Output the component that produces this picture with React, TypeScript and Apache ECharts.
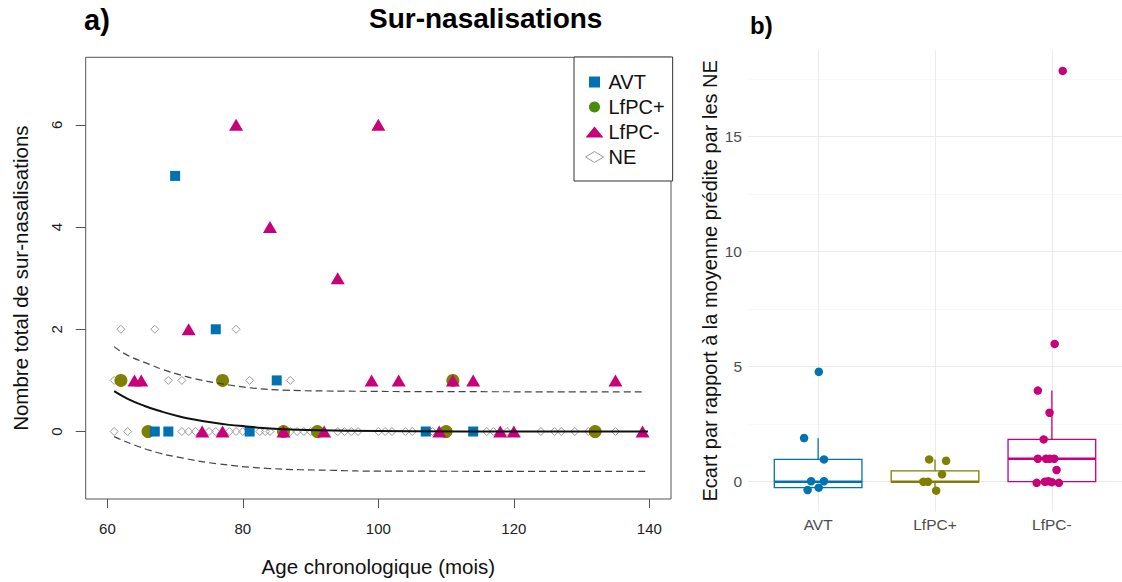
import React, { useEffect, useRef } from "react";
import * as echarts from "echarts";

const FONT = '"Liberation Sans", Arial, Helvetica, sans-serif';

// ---------- Panel a) : points [age, count] ----------
const avtPoints: [number, number][] = [
  [70, 5], [76, 2], [85, 1], [67, 0], [69, 0], [81, 0], [107, 0], [114, 0],
];
const lfpcPlusPoints: [number, number][] = [
  [62, 1], [77, 1], [111, 1], [66, 0], [86, 0], [91, 0], [110, 0], [132, 0],
];
const lfpcMinusPoints: [number, number][] = [
  [79, 6], [100, 6], [84, 4], [94, 3], [72, 2], [64, 1], [65, 1], [99, 1], [103, 1],
  [111, 1], [114, 1], [135, 1], [74, 0], [77, 0], [86, 0], [92, 0], [109, 0], [118, 0],
  [120, 0], [139, 0],
];
const nePoints: [number, number][] = [
  [62, 2], [67, 2], [79, 2],
  [61, 1], [69, 1], [71, 1], [81, 1], [87, 1],
  [61, 0], [63, 0], [71, 0], [72, 0], [73, 0], [75, 0], [76, 0], [78, 0], [79, 0], [80, 0],
  [82.5, 0], [83.3, 0], [84, 0], [87, 0], [88, 0], [89, 0], [90, 0], [94, 0], [95, 0],
  [96, 0], [97, 0], [100, 0], [101, 0], [102, 0], [104, 0], [105, 0], [108, 0], [116, 0],
  [117, 0], [119, 0], [124, 0], [126, 0], [127, 0], [129, 0], [131, 0], [135, 0],
];
// fitted mean and band
const meanCurve: [number, number][] = [
  [61, 0.79], [63, 0.64], [65.5, 0.5], [68, 0.39], [70.5, 0.3], [73, 0.23], [75.5, 0.175],
  [78, 0.13], [80.5, 0.1], [83, 0.07], [88, 0.035], [95, 0.015], [105, 0.005], [120, 0.001],
  [139.8, 0],
];
const upperCurve: [number, number][] = [
  [61, 1.66], [63, 1.49], [66.5, 1.3], [68, 1.22], [71.5, 1.08], [73, 1.03], [76.5, 0.94],
  [78, 0.91], [81.5, 0.85], [86, 0.81], [95, 0.79], [110, 0.78], [139.5, 0.775],
];
const lowerCurve: [number, number][] = [
  [61, -0.1], [66.3, -0.37], [71.2, -0.52], [76.2, -0.63], [83.6, -0.72], [93.4, -0.76],
  [100, -0.775], [139.8, -0.78],
];
const xTicksA = [60, 80, 100, 120, 140];
const yTicksA = [0, 2, 4, 6];

// ---------- Panel b) ----------
const boxCategories = ["AVT", "LfPC+", "LfPC-"];
// [lower whisker, Q1, median, Q3, upper whisker]
const boxStats: number[][] = [
  [-0.36, -0.26, 0, 0.97, 1.89],
  [-0.39, -0.02, 0, 0.47, 0.97],
  [-0.05, 0, 1.0, 1.84, 3.96],
];
const avtJitterX = [1.006, 0.88, 1.05, 0.94, 1.05, 0.91, 1.005];
const avtJitterY = [4.78, 1.9, 0.97, 0.02, 0.02, -0.36, -0.26];
const plusJitterX = [1.95, 2.095, 2.06, 1.9, 1.94, 2.01];
const plusJitterY = [0.97, 0.91, 0.32, 0.0, 0.0, -0.39];
const minusJitterX = [3.093, 3.024, 2.88, 2.98, 2.93, 2.88, 2.95, 2.98, 3.02, 3.04, 2.87, 2.94, 2.97, 3.0, 3.06];
const minusJitterY = [17.86, 5.99, 3.96, 3.0, 1.84, 1.0, 1.0, 1.0, 1.0, 0.51, -0.05, 0.0, 0.02, -0.02, -0.05];
const yTicksB = [0, 5, 10, 15];
const yMinorB = [2.5, 7.5, 12.5, 17.5];

const BLUE = "#0072b2";
const OLIVE = "#7f7f00";
const LEGEND_GREEN = "#4a8a0c";
const MAGENTA = "#c8007a";
const GREY = "#9a9a9a";
const boxColors = [BLUE, OLIVE, MAGENTA];

const zip = (xs: number[], ys: number[]) => xs.map((x, i) => [x, ys[i]]);

export default function App() {
  const ref = useRef<HTMLDivElement>(null);
  useEffect(() => {
    if (!ref.current) return;
    const chart = echarts.init(ref.current, undefined, { renderer: "svg" });
    const boxData = boxStats.map((s, i) => [i + 1, ...s]);
    const option: any = {
      animation: false,
      backgroundColor: "#fff",
      textStyle: { fontFamily: FONT },
      title: [
        { text: "a)", left: 84, top: 5, padding: 0, textStyle: { fontSize: 29, fontWeight: "bold", color: "#000", fontFamily: FONT } },
        { text: "Sur-nasalisations", left: 369, top: 4, padding: 0, textStyle: { fontSize: 28, fontWeight: "bold", color: "#000", fontFamily: FONT } },
        { text: "b)", left: 750, top: 13, padding: 0, textStyle: { fontSize: 24, fontWeight: "bold", color: "#000", fontFamily: FONT } },
      ],
      legend: {
        data: [
          { name: "AVT", icon: "path://M0,0L10,0L10,10L0,10Z", itemStyle: { color: BLUE } },
          { name: "LfPC+", icon: "circle", itemStyle: { color: LEGEND_GREEN } },
          { name: "LfPC-", icon: "triangle", itemStyle: { color: MAGENTA } },
          { name: "NE", icon: "diamond", itemStyle: { color: "#fff", borderColor: GREY, borderWidth: 1 } },
        ],
        orient: "vertical",
        left: 574,
        top: 57,
        padding: [15, 8, 14, 11],
        itemGap: 5,
        itemWidth: 18,
        itemHeight: 11,
        symbolKeepAspect: true,
        backgroundColor: "#fff",
        borderColor: "#333",
        borderWidth: 1,
        borderRadius: 0,
        selectedMode: false,
        textStyle: { fontSize: 20, color: "#111", fontFamily: FONT },
      },
      grid: [
        { left: 85.7, top: 57.3, width: 585.3, height: 446.7, show: true, borderColor: "#555", borderWidth: 1, backgroundColor: "transparent" },
        { left: 748, top: 50, width: 389.4, height: 461.6 },
      ],
      xAxis: [
        {
          type: "value", gridIndex: 0, min: 56.8, max: 143.2,
          axisLine: { show: false, onZero: false },
          axisTick: { show: true, length: 9, customValues: xTicksA, lineStyle: { color: "#555" } },
          axisLabel: { customValues: xTicksA, fontSize: 15, color: "#222", margin: 22, fontFamily: FONT },
          splitLine: { show: false },
          name: "Age chronologique (mois)", nameLocation: "middle", nameGap: 57,
          nameTextStyle: { fontSize: 20.5, color: "#111", fontFamily: FONT },
        },
        {
          type: "value", gridIndex: 1, min: 0.4, max: 3.6,
          axisLine: { show: false, onZero: false },
          axisTick: { show: false, customValues: [1, 2, 3] },
          axisLabel: {
            customValues: [1, 2, 3], fontSize: 15.5, color: "#4d4d4d", margin: 5, fontFamily: FONT,
            formatter: (v: number) => boxCategories[Math.round(v) - 1] ?? "",
          },
          splitLine: { show: true, lineStyle: { color: "#ebebeb", width: 1.1 } },
        },
      ],
      yAxis: [
        {
          type: "value", gridIndex: 0, min: -1.32, max: 7.32,
          axisLine: { show: false, onZero: false },
          axisTick: { show: true, length: 10, customValues: yTicksA, lineStyle: { color: "#555" } },
          axisLabel: { customValues: yTicksA, rotate: 90, fontSize: 15, color: "#222", margin: 22, fontFamily: FONT },
          splitLine: { show: false },
          name: "Nombre total de sur-nasalisations", nameLocation: "middle", nameRotate: 90, nameGap: 55,
          nameTextStyle: { fontSize: 20.5, color: "#111", fontFamily: FONT },
        },
        {
          type: "value", gridIndex: 1, min: -1.3, max: 18.77,
          axisLine: { show: false, onZero: false },
          axisTick: { show: false, customValues: yTicksB },
          axisLabel: { customValues: yTicksB, fontSize: 15.5, color: "#4d4d4d", margin: 6, fontFamily: FONT },
          splitLine: { show: true, lineStyle: { color: "#ebebeb", width: 1.1 } },
          name: "Ecart par rapport à la moyenne prédite par les NE", nameLocation: "middle", nameRotate: 90, nameGap: 28,
          nameTextStyle: { fontSize: 20, color: "#111", fontFamily: FONT },
        },
        {
          type: "value", gridIndex: 1, min: -1.3, max: 18.77, position: "left",
          axisLine: { show: false, onZero: false },
          axisTick: { show: false, customValues: yMinorB },
          axisLabel: { show: false, customValues: yMinorB },
          splitLine: { show: true, lineStyle: { color: "#f3f3f3", width: 0.6 } },
        },
      ],
      series: [
        {
          name: "NE", type: "scatter", xAxisIndex: 0, yAxisIndex: 0, symbol: "diamond", symbolSize: 8,
          itemStyle: { color: "rgba(255,255,255,0)", borderColor: GREY, borderWidth: 1, opacity: 1 },
          data: nePoints,
        },
        {
          name: "mean", type: "line", xAxisIndex: 0, yAxisIndex: 0, data: meanCurve, smooth: 0.5,
          symbol: "none", lineStyle: { color: "#111", width: 2 },
        },
        {
          name: "upper", type: "line", xAxisIndex: 0, yAxisIndex: 0, data: upperCurve, smooth: 0.5,
          symbol: "none", lineStyle: { color: "#444", width: 1.2, type: [7, 4] },
        },
        {
          name: "lower", type: "line", xAxisIndex: 0, yAxisIndex: 0, data: lowerCurve, smooth: 0.5,
          symbol: "none", lineStyle: { color: "#444", width: 1.2, type: [7, 4] },
        },
        {
          name: "LfPC+", type: "scatter", xAxisIndex: 0, yAxisIndex: 0, symbol: "circle", symbolSize: 13,
          itemStyle: { color: OLIVE, opacity: 1 }, data: lfpcPlusPoints,
        },
        {
          name: "AVT", type: "scatter", xAxisIndex: 0, yAxisIndex: 0, symbol: "rect", symbolSize: 10,
          itemStyle: { color: BLUE, opacity: 1 }, data: avtPoints,
        },
        {
          name: "LfPC-", type: "scatter", xAxisIndex: 0, yAxisIndex: 0, symbol: "triangle", symbolSize: [14, 12],
          itemStyle: { color: MAGENTA, opacity: 1 }, data: lfpcMinusPoints,
        },
        {
          name: "boxes", type: "custom", xAxisIndex: 1, yAxisIndex: 1, data: boxData,
          renderItem: (params: any, api: any) => {
            const x = api.value(0);
            const pLo = api.coord([x, api.value(1)]);
            const pQ1 = api.coord([x, api.value(2)]);
            const pMed = api.coord([x, api.value(3)]);
            const pQ3 = api.coord([x, api.value(4)]);
            const pHi = api.coord([x, api.value(5)]);
            const half = api.size([0.75, 0])[0] / 2;
            const color = boxColors[params.dataIndex];
            return {
              type: "group",
              children: [
                { type: "line", shape: { x1: pHi[0], y1: pHi[1], x2: pQ3[0], y2: pQ3[1] }, style: { stroke: color, lineWidth: 1.3 } },
                { type: "line", shape: { x1: pLo[0], y1: pLo[1], x2: pQ1[0], y2: pQ1[1] }, style: { stroke: color, lineWidth: 1.3 } },
                { type: "rect", shape: { x: pQ3[0] - half, y: pQ3[1], width: half * 2, height: pQ1[1] - pQ3[1] }, style: { fill: "#fff", stroke: color, lineWidth: 1.3 } },
                { type: "line", shape: { x1: pMed[0] - half, y1: pMed[1], x2: pMed[0] + half, y2: pMed[1] }, style: { stroke: color, lineWidth: 2.6 } },
              ],
            };
          },
        },
        {
          name: "AVT jitter", type: "scatter", xAxisIndex: 1, yAxisIndex: 1, symbolSize: 8.5,
          itemStyle: { color: BLUE, opacity: 1 }, data: zip(avtJitterX, avtJitterY),
        },
        {
          name: "LfPC+ jitter", type: "scatter", xAxisIndex: 1, yAxisIndex: 1, symbolSize: 8.5,
          itemStyle: { color: OLIVE, opacity: 1 }, data: zip(plusJitterX, plusJitterY),
        },
        {
          name: "LfPC- jitter", type: "scatter", xAxisIndex: 1, yAxisIndex: 1, symbolSize: 8.5,
          itemStyle: { color: MAGENTA, opacity: 1 }, data: zip(minusJitterX, minusJitterY),
        },
      ],
    };
    chart.setOption(option);
    return () => chart.dispose();
  }, []);
  return (
    <div
      ref={ref}
      style={{ position: "absolute", left: 0, top: 0, width: 1122, height: 582, background: "#fff" }}
    />
  );
}
